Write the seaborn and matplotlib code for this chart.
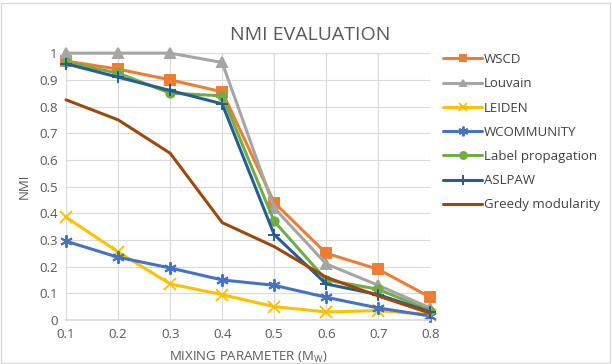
import matplotlib
matplotlib.use("Agg")
import matplotlib.pyplot as plt
import seaborn as sns
import pandas as pd
from matplotlib.patches import Rectangle

mixing = [0.1, 0.2, 0.3, 0.4, 0.5, 0.6, 0.7, 0.8]
wscd = [0.97, 0.94, 0.90, 0.855, 0.44, 0.25, 0.19, 0.085]
louvain = [1.0, 1.0, 1.0, 0.965, 0.42, 0.21, 0.13, 0.045]
leiden = [0.385, 0.255, 0.135, 0.095, 0.05, 0.03, 0.035, 0.02]
wcommunity = [0.295, 0.235, 0.195, 0.15, 0.13, 0.085, 0.045, 0.015]
label_prop = [0.965, 0.925, 0.85, 0.84, 0.37, 0.15, 0.115, 0.035]
aslpaw = [0.96, 0.91, 0.86, 0.81, 0.32, 0.135, 0.095, 0.03]
greedy = [0.825, 0.75, 0.625, 0.365, 0.275, 0.16, 0.09, 0.025]

names = ["WSCD", "Louvain", "LEIDEN", "WCOMMUNITY", "Label propagation", "ASLPAW", "Greedy modularity"]
series = [wscd, louvain, leiden, wcommunity, label_prop, aslpaw, greedy]
colors = ["#ED7D31", "#A5A5A5", "#FFC000", "#4472C4", "#70AD47", "#255E91", "#9E480E"]
markers = ["s", "^", "x", (6, 2, 0), "o", "+", None]
msizes = [7, 7, 8, 9, 6, 9, 0]
legsizes = [5, 5, 6, 7, 5, 7, 0]

sns.set_theme(style="white")
plt.rcParams["font.family"] = ["Open Sans", "DejaVu Sans"]

fig = plt.figure(figsize=(6.12, 3.64), dpi=100)
ax = fig.add_axes([0.108, 0.121, 0.595, 0.733])

txt = "#595959"
for name, vals, c, m, ms in zip(names, series, colors, markers, msizes):
    df = pd.DataFrame({"x": mixing, "y": vals})
    kw = dict(marker=m, markersize=ms, markeredgecolor=c, markerfacecolor=c, markeredgewidth=1.4) if m is not None else {}
    sns.lineplot(data=df, x="x", y="y", ax=ax, color=c, linewidth=2.2, label=name, clip_on=False, **kw)

ax.set_xlim(0.1, 0.8)
ax.set_ylim(0, 1.0)
ax.set_xticks(mixing)
ax.set_xticklabels([f"{v:.1f}" for v in mixing])
yt = [i / 10 for i in range(11)]
ax.set_yticks(yt)
ax.set_yticklabels(["0"] + [f"{v:.1f}" for v in yt[1:-1]] + ["1"])
ax.grid(True, color="#D9D9D9", linewidth=0.8)
for s in ["top", "right", "left"]:
    ax.spines[s].set_visible(False)
ax.spines["bottom"].set_color("#D9D9D9")
ax.tick_params(axis="both", colors=txt, labelsize=9.5, length=0, pad=6)
ax.set_xlabel("MIXING PARAMETER (M$_\\mathregular{W}$)", color=txt, fontsize=9.5, labelpad=6)
ax.set_ylabel("NMI", color=txt, fontsize=9.5, labelpad=6)

fig.text(0.507, 0.905, "NMI EVALUATION", ha="center", va="center", fontsize=14, color=txt)

leg = ax.legend(loc="upper left", bbox_to_anchor=(1.02, 1.02), frameon=False, fontsize=9.5,
                labelcolor="#404040", handlelength=3.0, labelspacing=0.85, handletextpad=0.1,
                borderaxespad=0)
for h, s in zip(leg.legend_handles, legsizes):
    h.set_markersize(s)

fig.patches.append(Rectangle((0.002, 0.003), 0.995, 0.99, transform=fig.transFigure,
                             fill=False, edgecolor="#D9D9D9", linewidth=1))
fig.savefig("out.png", dpi=100)
